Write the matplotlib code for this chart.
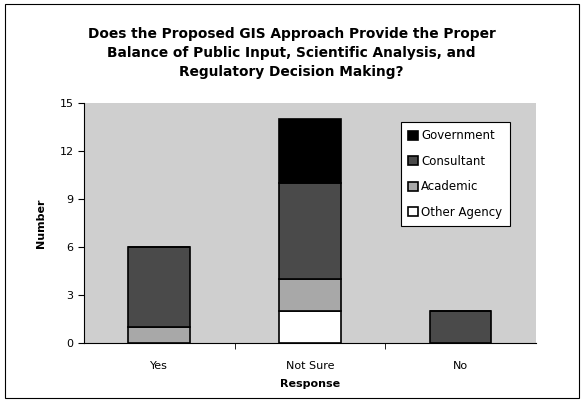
import numpy as np
import matplotlib
matplotlib.use("Agg")
import matplotlib.pyplot as plt
from matplotlib.patches import Rectangle

categories = ["Yes", "Not Sure", "No"]
other_agency = [0, 2, 0]
academic = [1, 2, 0]
consultant = [5, 6, 2]
government = [0, 4, 0]

series = [
    ("Other Agency", other_agency, "white"),
    ("Academic", academic, "#a8a8a8"),
    ("Consultant", consultant, "#4a4a4a"),
    ("Government", government, "black"),
]

fig = plt.figure(figsize=(5.83, 4.03), dpi=100)
ax = fig.add_axes([0.144, 0.149, 0.775, 0.595])
ax.set_facecolor("#cfcfcf")

x = np.arange(len(categories))
bottom = np.zeros(len(categories))
handles = {}
for name, vals, color in series:
    vals = np.array(vals, dtype=float)
    h = ax.bar(x, vals, width=0.41, bottom=bottom, color=color,
               edgecolor="black", linewidth=1.2)
    handles[name] = h
    bottom += vals

ax.set_xlim(-0.5, 2.5)
ax.set_ylim(0, 15)
ax.set_yticks([0, 3, 6, 9, 12, 15])
ax.set_xticks(x)
ax.set_xticklabels(categories, fontsize=8)
ax.tick_params(axis="x", length=0, pad=13)
ax.set_xticks([0.5, 1.5], minor=True)
ax.tick_params(axis="x", which="minor", length=4, direction="out")
ax.tick_params(axis="y", labelsize=8, length=4, direction="out")
for s in ["top", "right"]:
    ax.spines[s].set_visible(False)

ax.set_xlabel("Response", fontsize=8, fontweight="bold", labelpad=6)
ax.set_ylabel("Number", fontsize=8, fontweight="bold", labelpad=10)

order = ["Government", "Consultant", "Academic", "Other Agency"]
leg = ax.legend([handles[k] for k in order], order, loc="upper right",
                bbox_to_anchor=(0.955, 0.945), fontsize=8.5, fancybox=False,
                framealpha=1, edgecolor="black", handlelength=0.8,
                handleheight=0.8, handletextpad=0.3, labelspacing=1.05,
                borderpad=0.6)
leg.get_frame().set_linewidth(0.8)

fig.text(0.5, 0.868,
         "Does the Proposed GIS Approach Provide the Proper\n"
         "Balance of Public Input, Scientific Analysis, and\n"
         "Regulatory Decision Making?",
         ha="center", va="center", fontsize=9.9, fontweight="bold",
         linespacing=1.45)

fig.patches.append(Rectangle((0.008, 0.012), 0.985, 0.978,
                             transform=fig.transFigure, fill=False,
                             edgecolor="black", linewidth=0.8))

fig.savefig("out.png", dpi=100)
